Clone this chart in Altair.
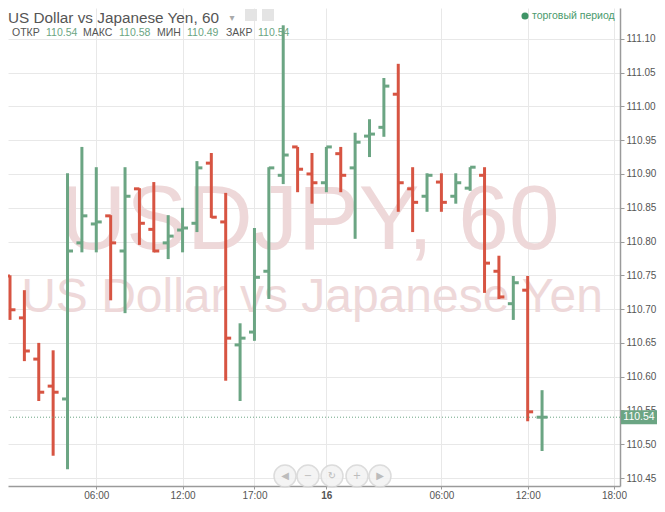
import altair as alt
import pandas as pd

# ---------------- data ----------------
bar_index = list(range(1, 39))
opens = [110.749, 110.687, 110.626, 110.586, 110.567, 110.798, 110.826, 110.838, 110.786, 110.878,
         110.818, 110.798, 110.817, 110.827, 110.916, 110.829, 110.647, 110.666, 110.756, 110.898,
         110.940, 110.900, 110.887, 110.930, 110.909, 110.956, 110.969, 111.018, 110.878, 110.867,
         110.888, 110.867, 110.879, 110.898, 110.756, 110.708, 110.728, 110.54]
highs = [110.750, 110.728, 110.650, 110.639, 110.901, 110.940, 110.910, 110.839, 110.910, 110.879,
         110.888, 110.839, 110.850, 110.919, 110.931, 110.872, 110.679, 110.820, 110.910, 111.120,
         110.940, 110.931, 110.940, 110.940, 110.961, 110.981, 111.042, 111.063, 110.910, 110.901,
         110.901, 110.901, 110.910, 110.910, 110.779, 110.749, 110.749, 110.58]
lows = [110.684, 110.623, 110.564, 110.483, 110.463, 110.784, 110.784, 110.713, 110.694, 110.795,
        110.784, 110.774, 110.784, 110.814, 110.835, 110.594, 110.564, 110.653, 110.715, 110.885,
        110.873, 110.856, 110.873, 110.873, 110.804, 110.925, 110.955, 110.844, 110.814, 110.844,
        110.844, 110.856, 110.875, 110.724, 110.715, 110.684, 110.534, 110.49]
closes = [110.699, 110.638, 110.577, 110.577, 110.786, 110.838, 110.829, 110.798, 110.867, 110.827,
          110.786, 110.808, 110.820, 110.909, 110.836, 110.657, 110.657, 110.747, 110.909, 110.928,
          110.907, 110.887, 110.940, 110.898, 110.947, 110.959, 111.030, 110.887, 110.858, 110.898,
          110.858, 110.887, 110.910, 110.768, 110.718, 110.739, 110.548, 110.54]

time_tick_index = [7, 13, 18, 23, 31, 37, 43]
time_tick_labels = ["06:00", "12:00", "17:00", "16", "06:00", "12:00", "18:00"]
day_tick_index = 23
price_ticks = [110.45, 110.50, 110.55, 110.60, 110.65, 110.70, 110.75,
               110.80, 110.85, 110.90, 110.95, 111.00, 111.05, 111.10]

title_text = "US Dollar vs Japanese Yen, 60"
watermark_big = "USDJPY, 60"
watermark_small = "US Dollar vs Japanese Yen"
ohlc_labels = ["ОТКР", "МАКС", "МИН", "ЗАКР"]
legend_text = "торговый период"
nav_icons = ["◀", "−", "↻", "+", "▶"]

# ---------------- layout / style ----------------
W, H = 612, 478
X_DOMAIN = [0.861, 43.42]
Y_DOMAIN = [110.4382, 111.1456]
TICK = 0.38
UP, DOWN = "#6ba583", "#d75442"
TXT = "#555555"
FONT = "Liberation Sans"
HEADER_X = [4, 38, 75, 111, 149, 179, 218, 250]
NAV_X = [277, 300, 324, 349, 372]
NAV_Y = 468

df = pd.DataFrame({"i": bar_index, "o": opens, "h": highs, "l": lows, "c": closes})
df["col"] = [UP if c >= o else DOWN for o, c in zip(opens, closes)]

xsc = alt.Scale(domain=X_DOMAIN, nice=False, zero=False)
ysc = alt.Scale(domain=Y_DOMAIN, nice=False, zero=False)

label_expr = " : ".join(f"datum.value == {v} ? '{l}'" for v, l in zip(time_tick_index, time_tick_labels)) + " : ''"
x_axis = alt.Axis(values=time_tick_index, labelExpr=label_expr, title=None, grid=True,
                  orient="bottom", tickSize=3, labelPadding=1, labelOverlap=False,
                  labelFlush=False, labelBound=False,
                  labelFontWeight={"condition": {"test": f"datum.value == {day_tick_index}", "value": "bold"},
                                   "value": "normal"})
y_axis = alt.Axis(values=price_ticks, format=".2f", orient="right", title=None, grid=True,
                  tickSize=4, labelPadding=2, labelOverlap=False, labelFlush=False, labelBound=False)

dummy = pd.DataFrame({"a": [0]})
layers = []

# watermark
layers.append(alt.Chart(dummy).mark_text(text=watermark_big, font=FONT, fontSize=91,
                                         color="#eed8d9", align="center", baseline="alphabetic")
              .encode(x=alt.value(302), y=alt.value(241)))
layers.append(alt.Chart(dummy).mark_text(text=watermark_small, font=FONT, fontSize=48,
                                         color="#eed8d9", align="center", baseline="alphabetic")
              .encode(x=alt.value(304), y=alt.value(304)))

base = alt.Chart(df)
colr = alt.Color("col:N", scale=None)
layers.append(base.mark_rule(strokeWidth=3, clip=True).encode(
    x=alt.X("i:Q", scale=xsc, axis=x_axis),
    y=alt.Y("l:Q", scale=ysc, axis=y_axis),
    y2="h:Q", color=colr))
layers.append(base.transform_calculate(xo=f"datum.i - {TICK}").mark_rule(strokeWidth=3, clip=True).encode(
    x=alt.X("xo:Q", scale=xsc, axis=x_axis), x2="i:Q",
    y=alt.Y("o:Q", scale=ysc, axis=y_axis), color=colr))
layers.append(base.transform_calculate(xc=f"datum.i + {TICK}").mark_rule(strokeWidth=3, clip=True).encode(
    x=alt.X("i:Q", scale=xsc, axis=x_axis), x2="xc:Q",
    y=alt.Y("c:Q", scale=ysc, axis=y_axis), color=colr))

last_close = closes[-1]
# dotted last-price line
layers.append(alt.Chart(dummy).mark_rule(color=UP, strokeWidth=1, strokeDash=[1, 2]).encode(
    y=alt.Y(datum=last_close, scale=ysc, axis=y_axis)))
# price label box
layers.append(alt.Chart(dummy).mark_point(shape="M-1,-0.39L1,-0.39L1,0.39L-1,0.39Z", filled=True,
                                          size=1296, color=UP, opacity=1, clip=False).encode(
    x=alt.value(631), y=alt.Y(datum=last_close, scale=ysc, axis=y_axis)))
layers.append(alt.Chart(dummy).mark_text(text=f"{last_close:.2f}", color="white", font=FONT, fontSize=10.5,
                                         align="center", baseline="middle", clip=False).encode(
    x=alt.value(631), y=alt.Y(datum=last_close, scale=ysc, axis=y_axis)))

# header
layers.append(alt.Chart(dummy).mark_text(text=title_text, font=FONT, fontSize=15.3, color=TXT,
                                         align="left", baseline="alphabetic").encode(
    x=alt.value(0), y=alt.value(15)))
layers.append(alt.Chart(dummy).mark_text(text="▾", font="DejaVu Sans", fontSize=10, color="#aaaaaa",
                                         align="center", baseline="middle").encode(
    x=alt.value(224), y=alt.value(10)))
layers.append(alt.Chart(dummy).mark_point(shape="square", filled=True, size=144, color="#e4e4e4",
                                          opacity=1).encode(x=alt.value(243), y=alt.value(7)))
layers.append(alt.Chart(dummy).mark_point(shape="square", filled=True, size=144, color="#e4e4e4",
                                          opacity=1).encode(x=alt.value(260), y=alt.value(7)))
ohlc_vals = [opens[-1], highs[-1], lows[-1], closes[-1]]
pieces = []
for lab, val in zip(ohlc_labels, ohlc_vals):
    pieces.append((lab, TXT))
    pieces.append((f"{val:.2f}", UP))
for (txt, col), px in zip(pieces, HEADER_X):
    layers.append(alt.Chart(dummy).mark_text(text=txt, font=FONT, fontSize=10.5, color=col,
                                             align="left", baseline="alphabetic").encode(
        x=alt.value(px), y=alt.value(28)))

# legend
layers.append(alt.Chart(dummy).mark_point(shape="circle", filled=True, size=50, color="#3f9466",
                                          opacity=1).encode(x=alt.value(517), y=alt.value(8)))
layers.append(alt.Chart(dummy).mark_text(text=legend_text, font=FONT, fontSize=10.5, color="#4a9a6d",
                                         align="left", baseline="middle").encode(
    x=alt.value(524), y=alt.value(8)))

# navigation buttons
nav = pd.DataFrame({"px": NAV_X, "icon": nav_icons})
layers.append(alt.Chart(nav).mark_point(shape="circle", filled=True, size=484, fill="#f3f3f3",
                                        stroke="#d9d9d9", strokeWidth=1.5, opacity=0.9).encode(
    x=alt.X("px:Q", scale=None, axis=None), y=alt.value(NAV_Y)))
layers.append(alt.Chart(nav).mark_text(font="DejaVu Sans", fontSize=10, color="#bcbcbc",
                                       align="center", baseline="middle").encode(
    x=alt.X("px:Q", scale=None, axis=None), y=alt.value(NAV_Y), text="icon:N"))

chart = alt.layer(*layers).properties(
    width=W, height=H,
    autosize=alt.AutoSizeParams(type="none"),
    padding={"left": 0, "top": 0, "right": 37, "bottom": 14},
    background="white",
).configure_view(stroke=None).configure_axis(
    gridColor="#e8e8e8", gridWidth=1, domainColor="#9a9a9a", domainWidth=1.5,
    tickColor="#9a9a9a", labelColor=TXT, labelFont=FONT, labelFontSize=10,
)

chart.save("out.html", embed_options={"renderer": "svg", "actions": False})
